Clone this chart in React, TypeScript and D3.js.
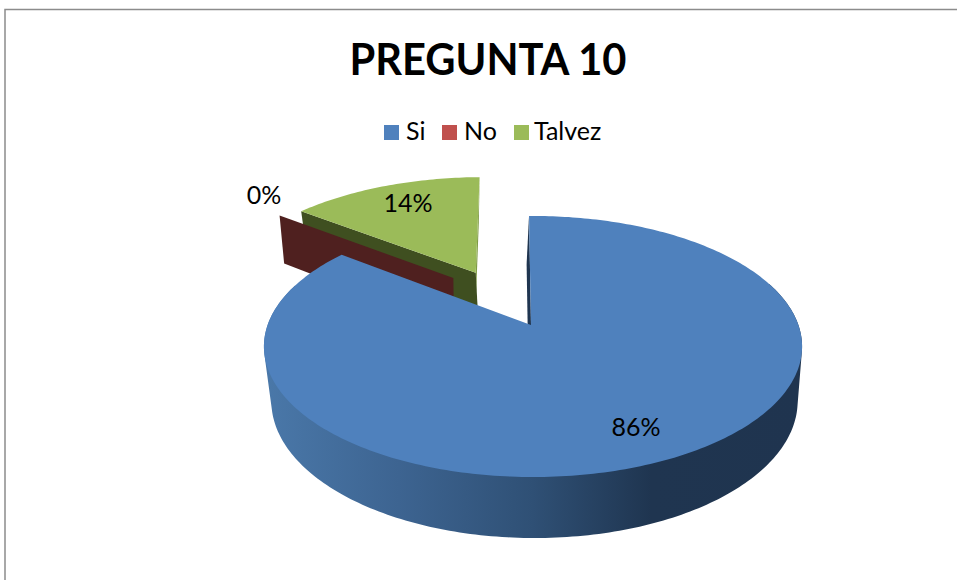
import React from "react";
import * as d3 from "d3";

const categories = ["Si", "No", "Talvez"];
const seriesValues = [85.7, 0, 14.3];
const sliceColors = ["#4f81bd", "#c0504d", "#9bbb59"];
const radialWallColors = ["#1f3550", "#4f201f", "#3f4f20"];
const sliverColor = "#7f9b45";

const WIDTH = 957;
const HEIGHT = 580;
const AX = 533, AY = 325, R = 265.4, H = 127, K = 0.1648;
const START_DEG = -1;
// direction of the explosion for every slice, degrees clockwise from the top
const explodeDir = [0, 321, 332.3];
const explodeAmount = [0, 0.508, 0.498];
// small sideways shift of each slice's apex in the pie's plane
const apexNudge = [-0.0075, 0, 0];
const labelPos: [number, number][] = [[636, 427], [264, 195], [408, 203]];

type P = [number, number];
const rad = (d: number) => (d * Math.PI) / 180;

function project(u: number, v: number, lower = false, dx = 1.5): P {
  const s = 1 / (1 - K * v);
  if (!lower) return [AX + R * u * s, AY + H * v * s];
  const vs = v * s;
  return [AX + dx + R * u * s * 0.978, AY + H * vs + 53.4 + 6.33 * vs];
}

const line = d3.line<P>().x((d) => d[0]).y((d) => d[1]);

export default function App() {
  const arcs = d3
    .pie<number>()
    .sort(null)
    .startAngle(rad(START_DEG))
    .endAngle(rad(START_DEG + 360))
    .value((d) => d)(seriesValues);
  const pct = d3.format(".0%");
  const total = d3.sum(seriesValues);

  const geometry = arcs.map((a, i) => {
    const ox = Math.sin(rad(explodeDir[i])) * explodeAmount[i];
    const oy = -Math.cos(rad(explodeDir[i])) * explodeAmount[i];
    const span = d3.range(a.startAngle, a.endAngle, rad(1)).concat(a.endAngle);
    const at = (t: number, lower: boolean, dx?: number) =>
      project(ox + Math.sin(t), oy - Math.cos(t), lower, dx);
    return { a, span, at, apex: (lower: boolean, dx?: number) => project(ox + apexNudge[i], oy, lower, dx) };
  });

  // The visible outer wall: the silhouette of overlapping front parts of both rims.
  const frontWall = (i: number) => {
    const g = geometry[i];
    const hull = (from: number, to: number) => {
      const part = g.span.filter((t) => t >= rad(from) && t <= rad(to));
      const pts = part.flatMap((t) => [g.at(t, false), g.at(t, true)]);
      return line(d3.polygonHull(pts as [number, number][]) as P[]) + "Z";
    };
    return hull(70, 132) + hull(128, 184) + hull(176, 234) + hull(226, 290);
  };
  const top = (i: number) => {
    const g = geometry[i];
    return line([g.apex(false), ...g.span.map((t) => g.at(t, false))]) + "Z";
  };
  const radial = (i: number, which: "start" | "end", dx?: number) => {
    const g = geometry[i];
    const t = which === "start" ? g.a.startAngle : g.a.endAngle;
    return line([g.apex(false), g.at(t, false), g.at(t, true, dx), g.apex(true, dx)]) + "Z";
  };

  const legendX = [384, 442, 514];
  const legendText = [406, 464, 534];

  return (
    <svg
      width={WIDTH}
      height={HEIGHT}
      viewBox={`0 0 ${WIDTH} ${HEIGHT}`}
      style={{ position: "absolute", left: 0, top: 0, background: "#fff" }}
      fontFamily="Lato, 'Open Sans', sans-serif"
    >
      <defs>
        <linearGradient id="wall" gradientUnits="userSpaceOnUse" x1={264} x2={802} y1={0} y2={0}>
          <stop offset="0" stopColor="#4a78a9" />
          <stop offset="0.25" stopColor="#3d6491" />
          <stop offset="0.5" stopColor="#2f5075" />
          <stop offset="0.72" stopColor="#1f3550" />
          <stop offset="1" stopColor="#1f344f" />
        </linearGradient>
      </defs>

      <path d={`M5,${HEIGHT}V9.5H${WIDTH}`} fill="none" stroke="#8c8c8c" strokeWidth={1.5} />

      <text x={488} y={75} fontSize={44} fontWeight={700} textAnchor="middle" textLength={277} lengthAdjust="spacingAndGlyphs" fill="#000">
        PREGUNTA 10
      </text>

      {categories.map((c, i) => (
        <g key={c}>
          <rect x={legendX[i]} y={125} width={15} height={15} fill={sliceColors[i]} />
          <text x={legendText[i]} y={140} fontSize={25} fill="#000">{c}</text>
        </g>
      ))}

      {/* Talvez */}
      <path d={radial(2, "end", -2)} fill={sliverColor} />
      <path d={radial(2, "start")} fill={radialWallColors[2]} />
      <path d={top(2)} fill={sliceColors[2]} />

      {/* No */}
      <path d={radial(1, "start", -1)} fill={radialWallColors[1]} />

      {/* Si */}
      <path d={radial(0, "start", -2.5)} fill={radialWallColors[0]} />
      <path d={frontWall(0)} fill="url(#wall)" />
      <path d={top(0)} fill={sliceColors[0]} />

      {arcs.map((a, i) => (
        <text key={i} x={labelPos[i][0]} y={labelPos[i][1]} dy="0.35em" fontSize={25} textAnchor="middle" fill="#000">
          {pct(a.data / total)}
        </text>
      ))}
    </svg>
  );
}
